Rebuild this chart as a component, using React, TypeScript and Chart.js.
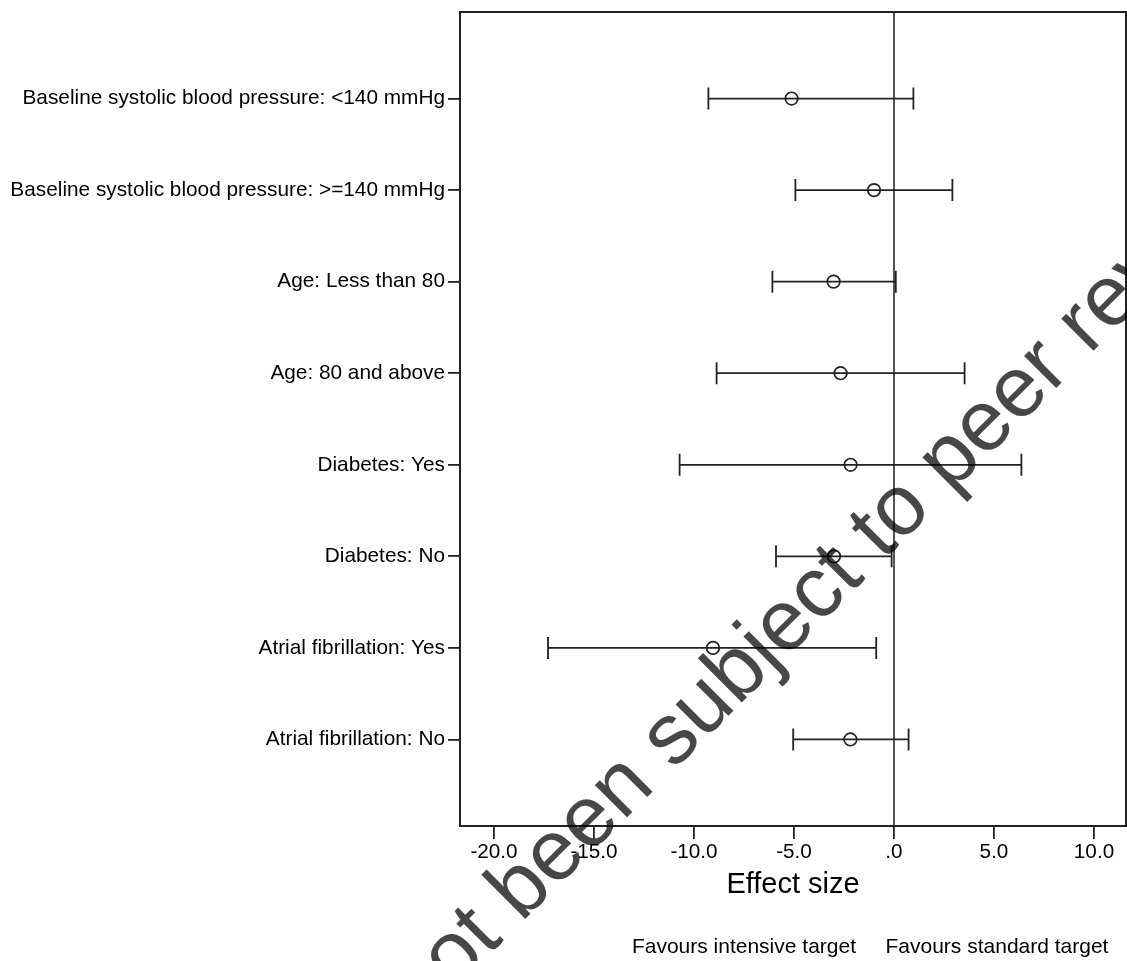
import React, { useEffect, useRef } from "react";
import { Chart, registerables } from "chart.js";

Chart.register(...registerables);

const categories = [
  "Baseline systolic blood pressure: <140 mmHg",
  "Baseline systolic blood pressure: >=140 mmHg",
  "Age: Less than 80",
  "Age: 80 and above",
  "Diabetes: Yes",
  "Diabetes: No",
  "Atrial fibrillation: Yes",
  "Atrial fibrillation: No",
];
const effectSize = [-5.12, -1.0, -3.02, -2.67, -2.17, -3.0, -9.05, -2.18];
const lowerCI = [-9.28, -4.93, -6.08, -8.87, -10.72, -5.9, -17.3, -5.04];
const upperCI = [0.97, 2.92, 0.09, 3.53, 6.37, -0.12, -0.89, 0.73];
const xTickValues = [-20, -15, -10, -5, 0, 5, 10];
const xTickLabels = ["-20.0", "-15.0", "-10.0", "-5.0", ".0", "5.0", "10.0"];
const xAxisTitle = "Effect size";
const favourLabels = ["Favours intensive target", "Favours standard target"];
const watermarkBefore = "has not been ";
const watermarkAfter = "subject to peer review";

const FONT = "'Liberation Sans', Arial, Helvetica, sans-serif";
const LINE = "#222222";

export default function App() {
  const ref = useRef<HTMLCanvasElement>(null);

  useEffect(() => {
    const canvas = ref.current;
    if (!canvas) return;

    const forestPlugin = {
      id: "forestPlugin",
      beforeDatasetsDraw(chart: any) {
        const { ctx, chartArea, scales } = chart;
        const xs = scales.x;
        const ys = scales.y;
        ctx.save();
        const x0 = xs.getPixelForValue(0);
        ctx.strokeStyle = "#555555";
        ctx.lineWidth = 2;
        ctx.beginPath();
        ctx.moveTo(x0, chartArea.top);
        ctx.lineTo(x0, chartArea.bottom);
        ctx.stroke();

        ctx.strokeStyle = LINE;
        ctx.lineWidth = 1.8;
        categories.forEach((_, i) => {
          const yp = ys.getPixelForValue(i + 1);
          const xl = xs.getPixelForValue(lowerCI[i]);
          const xu = xs.getPixelForValue(upperCI[i]);
          ctx.beginPath();
          ctx.moveTo(xl, yp);
          ctx.lineTo(xu, yp);
          ctx.moveTo(xl, yp - 11);
          ctx.lineTo(xl, yp + 11);
          ctx.moveTo(xu, yp - 11);
          ctx.lineTo(xu, yp + 11);
          ctx.stroke();
        });
        ctx.restore();
      },
      afterDraw(chart: any) {
        const { ctx, chartArea, scales } = chart;
        const xs = scales.x;
        ctx.save();
        ctx.strokeStyle = LINE;
        ctx.lineWidth = 2;
        ctx.strokeRect(
          chartArea.left,
          chartArea.top,
          chartArea.right - chartArea.left,
          chartArea.bottom - chartArea.top
        );
        const x0 = xs.getPixelForValue(0);
        ctx.fillStyle = "#000000";
        ctx.font = `21px ${FONT}`;
        ctx.textBaseline = "alphabetic";
        ctx.textAlign = "right";
        ctx.fillText(favourLabels[0], x0 - 38, 953);
        ctx.textAlign = "left";
        ctx.fillText(favourLabels[1], x0 - 8.5, 953);

        ctx.translate(673.4, 770.8);
        ctx.rotate(-Math.PI / 4);
        ctx.font = `86px ${FONT}`;
        ctx.fillStyle = "rgba(0,0,0,0.72)";
        ctx.textAlign = "left";
        ctx.textBaseline = "alphabetic";
        ctx.fillText(watermarkAfter, 0, 0);
        const w = ctx.measureText(watermarkBefore).width;
        ctx.fillText(watermarkBefore, -w, 0);
        ctx.restore();
      },
    };

    const chart = new Chart(canvas, {
      type: "scatter",
      data: {
        datasets: [
          {
            label: "Effect size",
            data: effectSize.map((v, i) => ({ x: v, y: i + 1 })),
            pointStyle: "circle",
            pointRadius: 6.3,
            pointHoverRadius: 6.3,
            pointBorderWidth: 1.7,
            borderColor: LINE,
            backgroundColor: "rgba(0,0,0,0)",
          },
        ],
      },
      options: {
        animation: false,
        responsive: false,
        maintainAspectRatio: false,
        layout: {
          autoPadding: false,
          padding: { top: 12, right: 1, bottom: 0, left: 0 },
        },
        plugins: {
          legend: { display: false },
          tooltip: { enabled: false },
          title: { display: false },
        },
        scales: {
          x: {
            type: "linear",
            min: -21.7,
            max: 11.6,
            border: { display: false },
            grid: {
              drawOnChartArea: false,
              drawTicks: true,
              tickLength: 13,
              color: LINE,
              lineWidth: 1.8,
            },
            afterBuildTicks: (scale: any) => {
              scale.ticks = xTickValues.map((v) => ({ value: v }));
            },
            ticks: {
              autoSkip: false,
              maxRotation: 0,
              padding: 3.3,
              color: "#000000",
              font: { family: FONT, size: 20.7, lineHeight: 1 },
              callback: (value: any) => {
                const idx = xTickValues.indexOf(Number(value));
                return idx >= 0 ? xTickLabels[idx] : "";
              },
            },
            title: {
              display: true,
              text: xAxisTitle,
              color: "#000000",
              font: { family: FONT, size: 29, lineHeight: 1 },
              padding: { top: 0, bottom: 61.5 },
            },
            afterFit: (scale: any) => {
              scale.height = 135;
              scale.paddingLeft = 0;
              scale.paddingRight = 0;
            },
          },
          y: {
            type: "linear",
            reverse: true,
            min: 0.055,
            max: 8.945,
            border: { display: false },
            grid: {
              drawOnChartArea: false,
              drawTicks: true,
              tickLength: 12,
              color: LINE,
              lineWidth: 1.8,
            },
            afterBuildTicks: (scale: any) => {
              scale.ticks = categories.map((_, i) => ({ value: i + 1 }));
            },
            ticks: {
              autoSkip: false,
              padding: 3,
              color: "#000000",
              font: { family: FONT, size: 20.8, lineHeight: 1 },
              callback: (value: any) => {
                const idx = Math.round(Number(value)) - 1;
                return categories[idx] ?? "";
              },
            },
            afterFit: (scale: any) => {
              scale.width = 460;
              scale.paddingTop = 0;
              scale.paddingBottom = 0;
            },
          },
        },
      },
      plugins: [forestPlugin],
    });

    return () => {
      chart.destroy();
    };
  }, []);

  return (
    <div
      style={{
        position: "fixed",
        left: 0,
        top: 0,
        width: 1127,
        height: 961,
        background: "#ffffff",
      }}
    >
      <canvas ref={ref} width={1127} height={961} style={{ display: "block" }} />
    </div>
  );
}
